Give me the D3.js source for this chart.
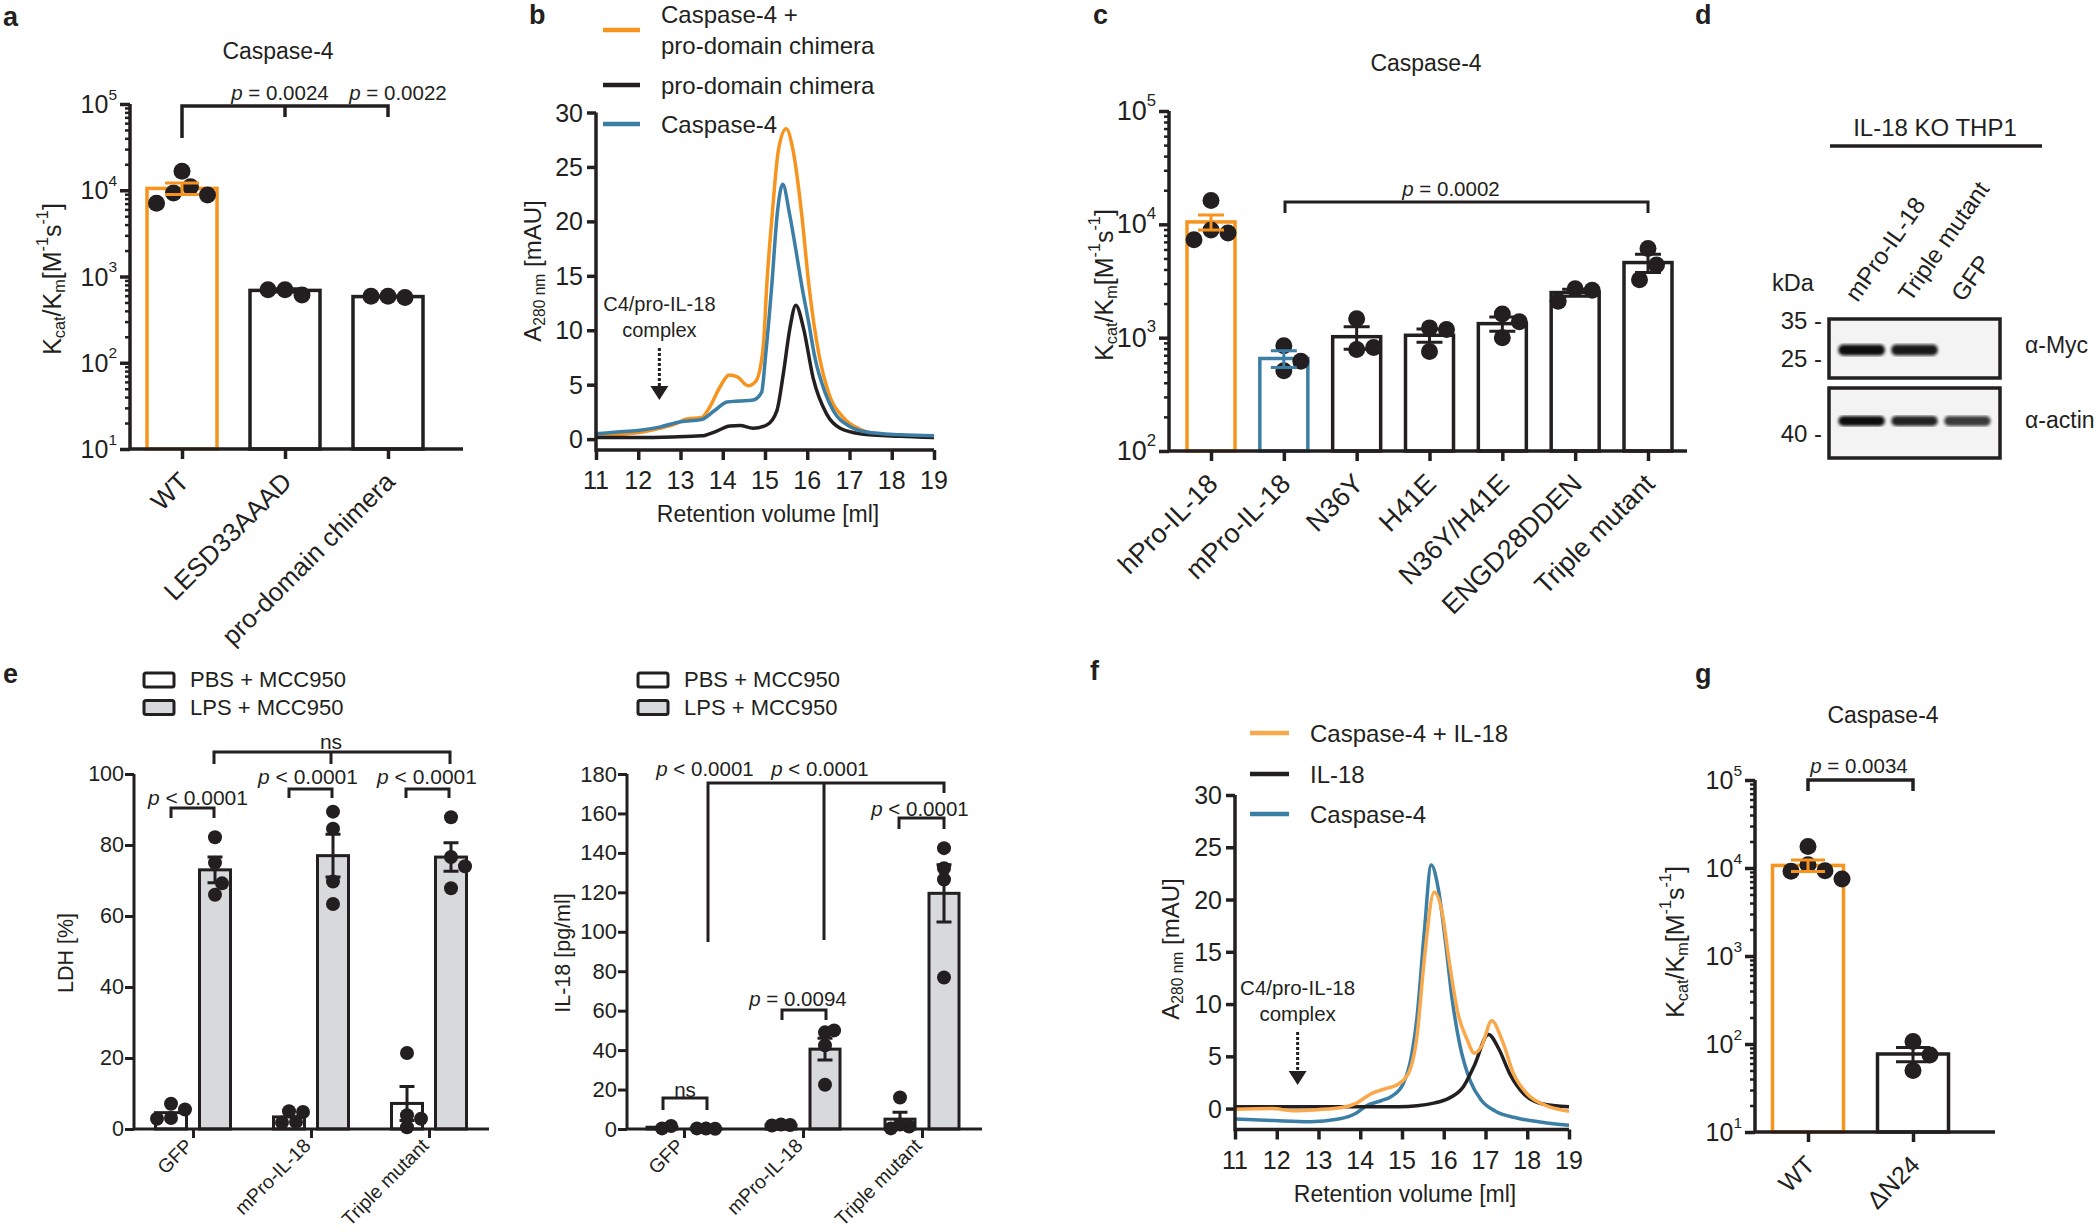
<!DOCTYPE html>
<meta charset="utf-8">
<script src="https://d3js.org/d3.v7.min.js"></script>
<style>
  body { margin: 0; background: #fff; }
  svg text { font-family: "Liberation Sans", Arial, Helvetica, sans-serif; fill: #231f20; }
</style>
<div id="fig"></div>
<script>

// ---------- data ----------
// a: kcat/Km of caspase-4 on substrates
var aCats = ["WT", "LESD33AAAD", "pro-domain chimera"];
var aMeans = [10500, 690, 585];
var aSem = [1600, 30, 8];
var aPoints = [[16600, 11000, 9300, 8800, 7050], [700, 610, 700], [590, 570, 590]];

// b: SEC traces [retention ml, mAU]
var bNames = ["Caspase-4 +\npro-domain chimera", "pro-domain chimera", "Caspase-4"];
var bComplex = [[11, 0.25], [11.5, 0.4], [12, 0.6], [12.5, 1.0], [12.85, 1.35], [13.15, 1.85], [13.5, 2.0], [13.7, 3.0], [13.95, 4.9], [14.15, 5.9], [14.35, 5.7], [14.6, 4.9], [14.78, 5.3], [14.9, 6.8], [14.97, 9], [15.04, 14], [15.17, 20.6], [15.32, 26.6], [15.5, 28.5], [15.67, 26.4], [15.87, 20.6], [16.04, 14.1], [16.29, 7.5], [16.5, 4.3], [16.85, 2.0], [17.25, 0.9], [17.8, 0.4], [18.5, 0.25], [19, 0.15]];
var bChimera = [[11, 0.15], [12, 0.15], [12.8, 0.2], [13.5, 0.3], [13.8, 0.65], [14.17, 1.2], [14.41, 1.25], [14.72, 1.0], [15.04, 1.3], [15.28, 2.6], [15.43, 5.9], [15.59, 10.2], [15.73, 12.3], [15.91, 10.2], [16.14, 5.6], [16.46, 2.3], [16.78, 1.0], [17.25, 0.5], [18.2, 0.26], [19, 0.15]];
var bCasp4 = [[11, 0.5], [11.5, 0.65], [12, 0.8], [12.5, 1.1], [13, 1.6], [13.5, 1.8], [13.8, 2.6], [14.1, 3.4], [14.4, 3.5], [14.72, 3.6], [14.92, 4.3], [15.01, 7.5], [15.16, 14.1], [15.29, 20.7], [15.42, 23.4], [15.58, 20.7], [15.73, 17.4], [15.87, 14.1], [16.03, 10.8], [16.18, 7.5], [16.42, 4.3], [16.62, 2.6], [17.01, 1.15], [17.4, 0.65], [18.2, 0.4], [19, 0.3]];

// c: kcat/Km on IL-18 variants
var cCats = ["hPro-IL-18", "mPro-IL-18", "N36Y", "H41E", "N36Y/H41E", "ENGD28DDEN", "Triple mutant"];
var cMeans = [10500, 655, 1020, 1050, 1330, 2500, 4600];
var cSem = [1600, 110, 230, 140, 190, 180, 850];
var cPoints = [[16200, 8900, 8400, 7300], [850, 510, 620], [1470, 785, 820], [1220, 1180, 755], [1620, 1380, 1000], [2700, 2620, 2100], [6130, 4380, 3250]];

// d: western blot
var dLanes = ["mPro-IL-18", "Triple mutant", "GFP"];
var dMyc = [1.0, 0.95, 0];
var dActin = [1.0, 0.9, 0.8];

// e: LDH and IL-18 release
var eGroups = ["GFP", "mPro-IL-18", "Triple mutant"];
var eSeries = ["PBS + MCC950", "LPS + MCC950"];
var ldhPbs = [4.6, 3.4, 7.2], ldhPbsSem = [0.9, 0.8, 4.8];
var ldhLps = [73, 77, 76.6], ldhLpsSem = [3.6, 6, 4];
var ldhPbsPts = [[7.1, 5.5, 3.1, 2.9], [5, 4.8, 2, 1.8], [21.4, 3.9, 2.9, 0.5]];
var ldhLpsPts = [[82.2, 75, 66, 69.2], [89.4, 84.6, 69.7, 63.4], [87.8, 76.6, 74, 67.8]];
var il18Pbs = [0.9, 2.0, 5.0], il18PbsSem = [0.5, 0.3, 3.5];
var il18Lps = [0.2, 40.5, 119.5], il18LpsSem = [0.1, 5.5, 14.5];
var il18PbsPts = [[0.3, 1.5], [2.3, 2.0, 1.8], [16, 2.3, 1.3, 0.3]];
var il18LpsPts = [[0.2, 0.1, 0.3], [49, 50, 42.4, 22.4], [142.4, 132.2, 126.5, 76.8]];

// f: SEC traces
var fNames = ["Caspase-4 + IL-18", "IL-18", "Caspase-4"];
var fComplex = [[11, -0.07], [11.9, 0], [12.37, -0.2], [12.97, -0.1], [13.56, 0.1], [13.9, 0.5], [14.25, 1.4], [14.6, 1.9], [14.85, 2.2], [15.15, 3.35], [15.36, 6.95], [15.53, 14.1], [15.77, 20.7], [15.96, 18.8], [16.13, 14.1], [16.34, 9.1], [16.56, 6.6], [16.73, 5.3], [16.9, 5.9], [17.15, 8.4], [17.41, 6.4], [17.67, 3.35], [18.0, 1.4], [18.44, 0.3], [19, -0.25]];
var fIL18 = [[11, 0.18], [13, 0.18], [14.93, 0.18], [15.79, 0.55], [16.13, 1.0], [16.47, 2.1], [16.73, 4.1], [17.07, 7.1], [17.32, 5.7], [17.58, 3.35], [17.92, 1.4], [18.35, 0.47], [19, 0.18]];
var fCasp4 = [[11, -1.0], [11.94, -1.15], [12.8, -1.25], [13.48, -1.0], [13.9, -0.45], [14.16, 0.3], [14.5, 0.75], [14.76, 1.2], [15.02, 2.3], [15.23, 5.1], [15.36, 8.75], [15.53, 16.7], [15.7, 23.3], [15.87, 21], [16.04, 16], [16.2, 10.5], [16.38, 6.2], [16.64, 2.6], [16.9, 0.8], [17.24, -0.25], [17.75, -0.9], [18.35, -1.3], [19, -1.6]];

// g: kcat/Km WT vs dN24
var gCats = ["WT", "\u0394N24"];
var gMeans = [10700, 77];
var gSem = [1600, 14];
var gPoints = [[17600, 10900, 9300, 9200, 7500], [107, 75, 50]];

// ---------- setup ----------
var ink = "#231f20", orange = "#f7941d", orangeLight = "#f9a94b", blue = "#3b7ea6", grey = "#d8d9db";

var svg = d3.select("#fig").append("svg")
    .attr("width", 2100)
    .attr("height", 1232);

svg.append("defs").append("filter").attr("id", "blur")
  .append("feGaussianBlur").attr("stdDeviation", 1.6);

function txt(g, x, y, s, size, anchor) {
  return g.append("text")
    .attr("x", x).attr("y", y)
    .attr("font-size", size)
    .attr("text-anchor", anchor || "middle")
    .attr("dominant-baseline", "central")
    .text(s);
}

function pText(g, x, y, rest, size) {
  var t = g.append("text").attr("x", x).attr("y", y)
    .attr("font-size", size).attr("text-anchor", "middle")
    .attr("dominant-baseline", "central");
  t.append("tspan").attr("font-style", "italic").text("p");
  t.append("tspan").text(" " + rest);
}

function panelLetter(x, y, s) {
  svg.append("text").attr("x", x).attr("y", y)
    .attr("font-size", 27).attr("font-weight", "bold").text(s);
}

function path(g, d, w) {
  g.append("path").attr("d", d).attr("fill", "none")
    .attr("stroke", ink).attr("stroke-width", w || 3);
}

function kcatLabel(g, cx, cy, size) {
  var s = size * 0.65;
  var t = g.append("text")
    .attr("transform", "translate(" + cx + "," + cy + ") rotate(-90)")
    .attr("text-anchor", "middle").attr("dominant-baseline", "central")
    .attr("font-size", size);
  t.append("tspan").text("K");
  t.append("tspan").attr("font-size", s).attr("dy", size * 0.28).text("cat");
  t.append("tspan").attr("dy", -size * 0.28).text("/K");
  t.append("tspan").attr("font-size", s).attr("dy", size * 0.28).text("m");
  t.append("tspan").attr("dy", -size * 0.28).text("[M");
  t.append("tspan").attr("font-size", s).attr("dy", -size * 0.4).text("-1");
  t.append("tspan").attr("dy", size * 0.4).text("s");
  t.append("tspan").attr("font-size", s).attr("dy", -size * 0.4).text("-1");
  t.append("tspan").attr("dy", size * 0.4).text("]");
}

function absLabel(g, cx, cy, size) {
  var t = g.append("text")
    .attr("transform", "translate(" + cx + "," + cy + ") rotate(-90)")
    .attr("text-anchor", "middle").attr("dominant-baseline", "central")
    .attr("font-size", size);
  t.append("tspan").text("A");
  t.append("tspan").attr("font-size", size * 0.65).attr("dy", size * 0.28).text("280 nm");
  t.append("tspan").attr("dy", -size * 0.28).text(" [mAU]");
}

function rotLabel(g, cx, cy, s, size) {
  g.append("text")
    .attr("transform", "translate(" + cx + "," + cy + ") rotate(-90)")
    .attr("text-anchor", "middle").attr("dominant-baseline", "central")
    .attr("font-size", size).text(s);
}

// simple column scatter so dots do not pile on each other
function swarm(vals, y, cx, r, minD, step) {
  var placed = [], md = minD * r;
  vals.forEach(function(v) {
    var yy = y(v), k = 0, off = 0;
    while (true) {
      off = k === 0 ? 0 : (k % 2 ? 1 : -1) * Math.ceil(k / 2) * r * step;
      var ok = placed.every(function(p) {
        var dx = p.x - (cx + off), dy = p.y - yy;
        return dx * dx + dy * dy >= md * md;
      });
      if (ok || k > 14) break;
      k++;
    }
    placed.push({x: cx + off, y: yy});
  });
  return placed;
}

function errBar(g, x, y, m, s, capW, color) {
  var lo = Math.max(m - s, y.domain()[0]);
  g.append("path")
    .attr("d", "M" + x + "," + y(m + s) + "V" + y(lo) +
      "M" + (x - capW / 2) + "," + y(m + s) + "h" + capW +
      "M" + (x - capW / 2) + "," + y(lo) + "h" + capW)
    .attr("fill", "none").attr("stroke", color).attr("stroke-width", 3);
}

function styleAxis(sel, w) {
  sel.select(".domain").remove();
  sel.selectAll("line").attr("stroke", ink).attr("stroke-width", w);
  sel.selectAll("text").remove();
}

// ---------- log bar panels (a, c, g) ----------
function logBarPanel(p) {
  var g = svg.append("g");
  var x = d3.scalePoint().domain(p.cats).range(p.xr);
  var y = d3.scaleLog().domain(p.yd).range(p.yr);
  var yBase = p.yr[0];

  g.selectAll(".bar").data(p.means).join("rect")
    .attr("x", function(d, i) { return x(p.cats[i]) - p.bw / 2; })
    .attr("y", function(d) { return y(d); })
    .attr("width", p.bw)
    .attr("height", function(d) { return yBase - y(d); })
    .attr("fill", "#fff")
    .attr("stroke", function(d, i) { return p.colors[i]; })
    .attr("stroke-width", 3.5);

  p.points.forEach(function(vals, i) {
    g.append("g").selectAll("circle")
      .data(swarm(vals, y, x(p.cats[i]), p.r, 2.0, 1.0))
      .join("circle")
        .attr("cx", function(d) { return d.x; })
        .attr("cy", function(d) { return d.y; })
        .attr("r", p.r)
        .attr("fill", ink);
  });

  p.means.forEach(function(m, i) {
    errBar(g, x(p.cats[i]), y, m, p.sems[i], p.capW, p.colors[i]);
  });

  // axes
  var e0 = Math.round(Math.log10(p.yd[0])), e1 = Math.round(Math.log10(p.yd[1]));
  var decades = d3.range(e0, e1 + 1).map(function(e) { return Math.pow(10, e); });
  var minors = [];
  decades.slice(0, -1).forEach(function(d) {
    for (var k = 2; k < 10; k++) minors.push(d * k);
  });
  g.append("g").attr("transform", "translate(" + p.ax[0] + ",0)")
    .call(d3.axisLeft(y).tickValues(minors).tickSize(5).tickFormat(""))
    .call(styleAxis, 2.5);
  g.append("g").attr("transform", "translate(" + p.ax[0] + ",0)")
    .call(d3.axisLeft(y).tickValues(decades).tickSize(10).tickFormat(""))
    .call(styleAxis, 3.5);
  g.append("g").attr("transform", "translate(0," + yBase + ")")
    .call(d3.axisBottom(x).tickSize(10).tickFormat(""))
    .call(styleAxis, 3.5);
  path(g, "M" + p.ax[0] + "," + p.yr[1] + "V" + yBase + "H" + p.ax[1], 3.5);

  decades.forEach(function(d) {
    var t = g.append("text").attr("x", p.ax[0] - 13).attr("y", y(d))
      .attr("text-anchor", "end").attr("dominant-baseline", "central")
      .attr("font-size", p.tickFont);
    t.append("tspan").text("10");
    t.append("tspan").attr("font-size", p.tickFont * 0.62).attr("dy", -p.tickFont * 0.42)
      .text(Math.round(Math.log10(d)));
  });

  p.cats.forEach(function(c) {
    g.append("text")
      .attr("transform", "translate(" + (x(c) + 2) + "," + (yBase + 28) + ") rotate(-45)")
      .attr("text-anchor", "end").attr("dominant-baseline", "central")
      .attr("font-size", p.labelFont).text(c);
  });
  return g;
}

// ---------- panel a ----------
panelLetter(3, 26, "a");
var ga = logBarPanel({cats: aCats, means: aMeans, sems: aSem, points: aPoints,
  colors: [orange, ink, ink], xr: [182, 388], ax: [130, 463], yd: [10, 1e5], yr: [449, 104],
  bw: 70, r: 8.5, capW: 34, tickFont: 25, labelFont: 26});
txt(ga, 278, 51, "Caspase-4", 23);
kcatLabel(ga, 52, 279, 25);
path(ga, "M182,138V106H388V117M285,106V117", 3.5);
pText(ga, 280, 92, "= 0.0024", 20.5);
pText(ga, 398, 92, "= 0.0022", 20.5);

// ---------- curve panels (b, f) ----------
function curvePanel(p) {
  var g = svg.append("g");
  var x = d3.scaleLinear().domain([11, 19]).range(p.xr);
  var y = d3.scaleLinear().domain(p.yd).range(p.yr);
  var line = d3.line()
    .x(function(d) { return x(d[0]); })
    .y(function(d) { return y(d[1]); })
    .curve(d3.curveMonotoneX);

  p.series.forEach(function(s) {
    g.append("path").datum(s.data)
      .attr("d", line).attr("fill", "none")
      .attr("stroke", s.color).attr("stroke-width", 3.5)
      .attr("stroke-linejoin", "round");
  });

  g.append("g").attr("transform", "translate(" + p.xr[0] + ",0)")
    .call(d3.axisLeft(y).tickValues(d3.range(0, 31, 5)).tickSize(9))
    .call(styleAxis, 3.5);
  g.append("g").attr("transform", "translate(0," + p.yr[0] + ")")
    .call(d3.axisBottom(x).tickValues(d3.range(11, 20)).tickSize(10))
    .call(styleAxis, 3.5);
  path(g, "M" + p.xr[0] + "," + y(30) + "V" + p.yr[0] + "H" + p.xr[1], 3.5);

  d3.range(0, 31, 5).forEach(function(v) {
    txt(g, p.xr[0] - 13, y(v), v, p.tickFont, "end");
  });
  d3.range(11, 20).forEach(function(v) {
    txt(g, x(v), p.yr[0] + 30, v, p.tickFont);
  });
  txt(g, (p.xr[0] + p.xr[1]) / 2 + 3, p.yr[0] + 64, "Retention volume [ml]", p.xFont);
  absLabel(g, p.ylx, p.yly, p.yFont);

  // complex marker at 12.5 ml
  var ax = x(12.5);
  txt(g, ax, p.ann[0], "C4/pro-IL-18", p.annFont);
  txt(g, ax, p.ann[0] + p.annFont * 1.3, "complex", p.annFont);
  g.append("line").attr("x1", ax).attr("x2", ax)
    .attr("y1", p.ann[1]).attr("y2", p.ann[2] - 12)
    .attr("stroke", ink).attr("stroke-width", 3).attr("stroke-dasharray", "3,2");
  g.append("path")
    .attr("d", "M" + (ax - 9) + "," + (p.ann[2] - 14) + "h18l-9,14z")
    .attr("fill", ink);

  // legend
  p.legend.forEach(function(L) {
    g.append("line").attr("x1", p.legX[0]).attr("x2", p.legX[1])
      .attr("y1", L.y).attr("y2", L.y)
      .attr("stroke", L.color).attr("stroke-width", 4.5);
    L.lines.forEach(function(s, j) {
      txt(g, p.legX[2], L.ty + j * 31, s, p.legFont, "start");
    });
  });
  return g;
}

panelLetter(529, 24, "b");
curvePanel({
  series: [{data: bComplex, color: orange}, {data: bChimera, color: ink}, {data: bCasp4, color: blue}],
  xr: [596, 934], yd: [-1, 30], yr: [450, 112.5],
  tickFont: 25, xFont: 23, yFont: 24, ylx: 532, yly: 271,
  ann: [304, 348, 400], annFont: 20,
  legX: [603, 640, 661], legFont: 24,
  legend: [
    {y: 30, ty: 14, color: orange, lines: bNames[0].split("\n")},
    {y: 85, ty: 85, color: ink, lines: [bNames[1]]},
    {y: 124, ty: 124, color: blue, lines: [bNames[2]]}
  ]
});

// ---------- panel c ----------
panelLetter(1093, 24, "c");
var gc = logBarPanel({cats: cCats, means: cMeans, sems: cSem, points: cPoints,
  colors: [orange, blue, ink, ink, ink, ink, ink], xr: [1211, 1648], ax: [1169, 1687],
  yd: [100, 1e5], yr: [451, 111], bw: 48, r: 8.5, capW: 26, tickFont: 27, labelFont: 27});
txt(gc, 1426, 63, "Caspase-4", 23);
kcatLabel(gc, 1104, 285, 25);
path(gc, "M1285,213V202H1648V213", 3);
pText(gc, 1451, 188, "= 0.0002", 20.5);

// ---------- panel d (blot) ----------
panelLetter(1695, 24, "d");
var gd = svg.append("g");
var lane = d3.scaleBand().domain(dLanes).range([1832, 1997]).padding(0.12);
txt(gd, 1935, 127, "IL-18 KO THP1", 24);
path(gd, "M1830,146H2042", 3.5);
txt(gd, 1772, 283, "kDa", 23.5, "start");
dLanes.forEach(function(l) {
  gd.append("text")
    .attr("transform", "translate(" + (lane(l) + lane.bandwidth() / 2 - 4) + ",303) rotate(-55)")
    .attr("font-size", 24).text(l);
});
[[319, 378, dMyc, 350, 11], [388, 458, dActin, 421, 10]].forEach(function(b) {
  gd.append("rect").attr("x", 1829).attr("y", b[0]).attr("width", 171).attr("height", b[1] - b[0])
    .attr("fill", "#f3f3f3").attr("stroke", ink).attr("stroke-width", 3.5);
  gd.selectAll(null).data(b[2]).join("rect")
    .attr("x", function(d, i) { return lane(dLanes[i]); })
    .attr("y", b[3] - b[4] / 2)
    .attr("width", lane.bandwidth())
    .attr("height", b[4])
    .attr("rx", 5)
    .attr("fill", "#111")
    .attr("opacity", function(d) { return d; })
    .attr("filter", "url(#blur)");
});
txt(gd, 1822, 320, "35 -", 24, "end");
txt(gd, 1822, 358, "25 -", 24, "end");
txt(gd, 1822, 433, "40 -", 24, "end");
txt(gd, 2025, 345, "\u03b1-Myc", 23, "start");
txt(gd, 2025, 420, "\u03b1-actin", 23, "start");

// ---------- panel e ----------
function groupedPanel(p) {
  var g = svg.append("g");
  var x = d3.scalePoint().domain(eGroups).range(p.xr);
  var y = d3.scaleLinear().domain(p.yd).range(p.yr);
  var series = [
    {m: p.pbs, s: p.pbsSem, pts: p.pbsPts, off: -p.off, fill: "#fff"},
    {m: p.lps, s: p.lpsSem, pts: p.lpsPts, off: p.off, fill: grey}
  ];
  series.forEach(function(S) {
    g.append("g").selectAll("rect").data(S.m).join("rect")
      .attr("x", function(d, i) { return x(eGroups[i]) + S.off - p.bw / 2; })
      .attr("y", function(d) { return y(d); })
      .attr("width", p.bw)
      .attr("height", function(d) { return p.yr[0] - y(d); })
      .attr("fill", S.fill).attr("stroke", ink).attr("stroke-width", 3);
  });
  series.forEach(function(S) {
    S.pts.forEach(function(vals, i) {
      g.append("g").selectAll("circle")
        .data(swarm(vals, y, x(eGroups[i]) + S.off, p.r, p.minD, p.step))
        .join("circle")
          .attr("cx", function(d) { return d.x; })
          .attr("cy", function(d) { return d.y; })
          .attr("r", p.r).attr("fill", ink);
    });
    S.m.forEach(function(m, i) {
      if (S.s[i] > 1) errBar(g, x(eGroups[i]) + S.off, y, m, S.s[i], 15, ink);
    });
  });

  g.append("g").attr("transform", "translate(" + p.ax[0] + ",0)")
    .call(d3.axisLeft(y).tickValues(p.ticks).tickSize(9))
    .call(styleAxis, 3);
  g.append("g").attr("transform", "translate(0," + p.yr[0] + ")")
    .call(d3.axisBottom(x).tickSize(9))
    .call(styleAxis, 3);
  path(g, "M" + p.ax[0] + "," + p.yr[1] + "V" + p.yr[0] + "H" + p.ax[1], 3);
  p.ticks.forEach(function(v) {
    txt(g, p.ax[0] - 10, y(v), v, p.tickFont, "end");
  });
  eGroups.forEach(function(c) {
    g.append("text")
      .attr("transform", "translate(" + (x(c) - 4) + "," + (p.yr[0] + 13) + ") rotate(-45)")
      .attr("text-anchor", "end").attr("dominant-baseline", "central")
      .attr("font-size", 19.5).text(c);
  });
  rotLabel(g, p.ylx, 953, p.yLabel, 21.5);

  // legend
  eSeries.forEach(function(s, i) {
    g.append("rect").attr("x", p.legX).attr("y", 673 + i * 27.5).attr("width", 30).attr("height", 14)
      .attr("rx", 2).attr("fill", i ? grey : "#fff").attr("stroke", ink).attr("stroke-width", 3);
    txt(g, p.legX + 46, 679 + i * 28, s, 22, "start");
  });
  return g;
}

panelLetter(3, 683, "e");
var ge1 = groupedPanel({pbs: ldhPbs, pbsSem: ldhPbsSem, lps: ldhLps, lpsSem: ldhLpsSem,
  pbsPts: ldhPbsPts, lpsPts: ldhLpsPts, xr: [193, 429], ax: [134, 489], yd: [0, 100],
  yr: [1129, 774], ticks: d3.range(0, 101, 20), bw: 31, off: 22, r: 7, minD: 1.7, step: 1.0,
  tickFont: 21.5, yLabel: "LDH [%]", ylx: 66, legX: 144});
pText(ge1, 198, 797, "< 0.0001", 21);
path(ge1, "M171,818V808H214V818");
pText(ge1, 308, 776, "< 0.0001", 21);
path(ge1, "M289,798V789H332V798");
pText(ge1, 427, 776, "< 0.0001", 21);
path(ge1, "M406,798V789H449V798");
txt(ge1, 331, 741, "ns", 21);
path(ge1, "M214,764V752H450V764M331,752V764");

var ge2 = groupedPanel({pbs: il18Pbs, pbsSem: il18PbsSem, lps: il18Lps, lpsSem: il18LpsSem,
  pbsPts: il18PbsPts, lpsPts: il18LpsPts, xr: [684, 922], ax: [627, 982], yd: [0, 180],
  yr: [1129, 774], ticks: d3.range(0, 181, 20), bw: 30, off: 22, r: 7, minD: 1.3, step: 0.65,
  tickFont: 22, yLabel: "IL-18 [pg/ml]", ylx: 563, legX: 638});
txt(ge2, 685, 1089, "ns", 20.5);
path(ge2, "M663,1110V1098H707V1110");
pText(ge2, 798, 998, "= 0.0094", 20.5);
path(ge2, "M782,1020V1010H826V1020");
pText(ge2, 920, 808, "< 0.0001", 20.5);
path(ge2, "M899,829V818H944V829");
pText(ge2, 705, 768, "< 0.0001", 20.5);
pText(ge2, 820, 768, "< 0.0001", 20.5);
path(ge2, "M708,942V783H944V793M824,783V940");

// ---------- panel f ----------
panelLetter(1090, 680, "f");
curvePanel({
  series: [{data: fCasp4, color: blue}, {data: fIL18, color: ink}, {data: fComplex, color: orangeLight}],
  xr: [1235, 1569], yd: [-2, 30], yr: [1129.5, 795],
  tickFont: 25, xFont: 23, yFont: 24, ylx: 1170, yly: 949,
  ann: [987, 1032, 1085], annFont: 20.5,
  legX: [1250, 1289, 1310], legFont: 24,
  legend: [
    {y: 733, ty: 733, color: orangeLight, lines: [fNames[0]]},
    {y: 774, ty: 774, color: ink, lines: [fNames[1]]},
    {y: 814, ty: 814, color: blue, lines: [fNames[2]]}
  ]
});

// ---------- panel g ----------
panelLetter(1695, 683, "g");
var gg = logBarPanel({cats: gCats, means: gMeans, sems: gSem, points: gPoints,
  colors: [orange, ink], xr: [1808, 1913], ax: [1755, 1995], yd: [10, 1e5], yr: [1132, 780],
  bw: 71, r: 8.5, capW: 34, tickFont: 25, labelFont: 25});
txt(gg, 1883, 715, "Caspase-4", 23);
kcatLabel(gg, 1675, 942, 25);
path(gg, "M1808,791V780H1913V791", 3.5);
pText(gg, 1859, 765, "= 0.0034", 20.5);

</script>
